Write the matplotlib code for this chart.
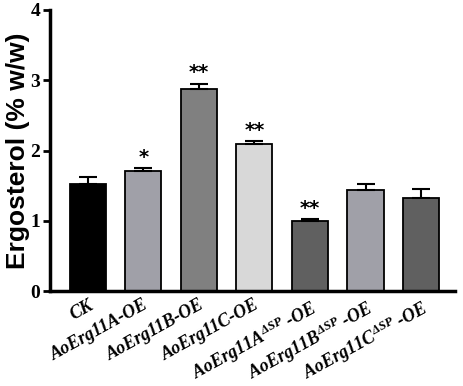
import matplotlib
matplotlib.use("Agg")
import matplotlib.pyplot as plt

categories = ["CK", "AoErg11A-OE", "AoErg11B-OE", "AoErg11C-OE",
              "AoErg11A$^{\\Delta SP}$ -OE", "AoErg11B$^{\\Delta SP}$ -OE",
              "AoErg11C$^{\\Delta SP}$ -OE"]
values = [1.52, 1.71, 2.88, 2.09, 1.00, 1.44, 1.32]
errors = [0.10, 0.04, 0.07, 0.04, 0.02, 0.09, 0.13]
stars = ["", "*", "**", "**", "**", "", ""]
colors = ["#000000", "#a0a0a8", "#808080", "#d8d8d8", "#606060", "#a0a0a8", "#606060"]
yticks = [0, 1, 2, 3, 4]

plt.rcParams['mathtext.default'] = 'regular'

fig = plt.figure(figsize=(4.64, 3.86), dpi=100)
ax = fig.add_axes([50/464, 1-291/386, 405/464, 281/386])

x = list(range(len(values)))
ax.bar(x, values, width=0.65, color=colors, edgecolor="black", linewidth=1.3, zorder=2)
ax.errorbar(x, values, yerr=[[0]*len(errors), errors], fmt="none", ecolor="black",
            elinewidth=1.5, capsize=6.5, capthick=1.5, zorder=3)
for xi, v, e, s in zip(x, values, errors, stars):
    if s:
        ax.text(xi, v + e + 0.02, s, ha="center", va="bottom", fontsize=14,
                fontweight="bold", family="DejaVu Sans")

ax.set_xlim(-0.68, 6.61)
ax.set_ylim(0, 4)
ax.set_yticks(yticks)
ax.set_yticklabels([str(t) for t in yticks], fontsize=14, fontweight="bold",
                   family="Liberation Serif")
ax.set_xticks(x)
ax.set_xticklabels(categories, rotation=29, ha="right", rotation_mode="anchor",
                   fontsize=13, fontweight="bold", style="italic",
                   family="Liberation Serif")
ax.tick_params(axis="x", length=0, pad=4)
ax.tick_params(axis="y", length=5, width=2, pad=2)
ax.set_ylabel("Ergosterol (% w/w)", fontsize=19, fontweight="bold",
              family="Liberation Sans")
ax.yaxis.set_label_coords(-0.05, 0.5)
for sp in ["top", "right"]:
    ax.spines[sp].set_visible(False)
for sp in ["left", "bottom"]:
    ax.spines[sp].set_linewidth(2.5)

fig.savefig("out.png", dpi=100)
